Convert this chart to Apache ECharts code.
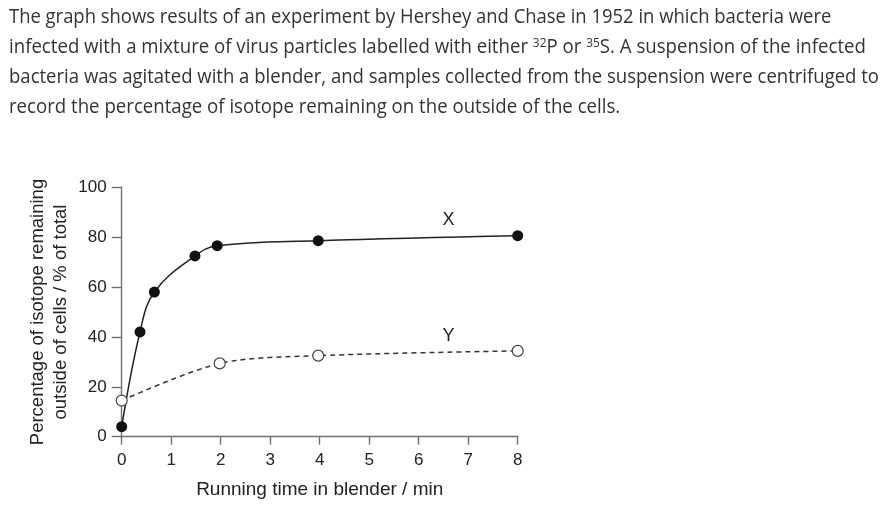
<!DOCTYPE html>
<html>
<head>
<meta charset="UTF-8">
<title>Hershey and Chase blender experiment</title>
<script src="https://cdn.jsdelivr.net/npm/echarts@6/dist/echarts.min.js"></script>
<style>
    body {margin: 0; background: #fff; width: 892px; height: 510px; overflow: hidden; position: relative;}
    #chart {position: absolute; left: 0; top: 0; width: 892px; height: 510px;}
    #intro {position: absolute; left: 0; top: 0; z-index: 2; font-family: "Open Sans"; font-size: 20px; color: #333;}
    #intro div {position: absolute; left: 9px; white-space: nowrap; line-height: 30px; transform-origin: 0 0;}
    #intro sup {font-size: 0.64em; vertical-align: 0.5em; line-height: 0;}
</style>
</head>
<body>
<div id="intro">
    <div style="top:1px" data-w="822">The graph shows results of an experiment by Hershey and Chase in 1952 in which bacteria were</div>
    <div style="top:31px" data-w="857">infected with a mixture of virus particles labelled with either <sup>32</sup>P or <sup>35</sup>S. A suspension of the infected</div>
    <div style="top:61px" data-w="870">bacteria was agitated with a blender, and samples collected from the suspension were centrifuged to</div>
    <div style="top:91px" data-w="611">record the percentage of isotope remaining on the outside of the cells.</div>
</div>
<div id="chart"></div>
<script>
    // running time (min) and % isotope outside the cells
    var timeX = [0, 0.37, 0.66, 1.48, 1.93, 3.97, 8];
    var isotopeX = [4, 42, 58, 72.5, 76.6, 78.6, 80.6];
    var timeY = [0, 1.98, 3.97, 8];
    var isotopeY = [14.5, 29.4, 32.5, 34.4];
    var labelX = [6.6, 87];
    var labelY = [6.6, 40.5];

    // squeeze the paragraph lines to the widths of the original typesetting
    Array.prototype.forEach.call(document.querySelectorAll('#intro div'), function (el) {
        var w = el.offsetWidth;
        el.style.transform = 'scaleX(' + (+el.getAttribute('data-w') / w) + ')';
    });

    function pairs(xs, ys) {
        return xs.map(function (x, i) { return [x, ys[i]]; });
    }

    var font = 'Liberation Sans';
    var axisColor = '#707070';

    function curveLabel(text, coord) {
        return {
            symbol: 'rect',
            symbolSize: 1,
            itemStyle: {color: 'rgba(0,0,0,0)'},
            label: {show: true, position: 'inside', formatter: text, color: '#222', fontSize: 18, fontFamily: font},
            data: [{coord: coord}]
        };
    }

    var chart = echarts.init(document.getElementById('chart'));
    chart.setOption({
        animation: false,
        grid: {left: 121.7, right: 374.3, top: 187.3, bottom: 73.3},
        xAxis: {
            type: 'value',
            min: 0,
            max: 8,
            interval: 1,
            name: 'Running time in blender / min',
            nameLocation: 'middle',
            nameGap: 44,
            nameTextStyle: {color: '#222', fontSize: 19, fontFamily: font},
            axisLine: {lineStyle: {color: axisColor, width: 1.4}},
            axisTick: {length: 8, lineStyle: {color: axisColor, width: 1.4}},
            axisLabel: {margin: 15, color: '#222', fontSize: 17, fontFamily: font},
            splitLine: {show: false}
        },
        yAxis: {
            type: 'value',
            min: 0,
            max: 100,
            interval: 20,
            name: 'Percentage of isotope remaining\noutside of cells / % of total',
            nameLocation: 'middle',
            nameGap: 49,
            nameTextStyle: {color: '#222', fontSize: 18.5, lineHeight: 23.5, fontFamily: font},
            axisLine: {show: true, lineStyle: {color: axisColor, width: 1.4}},
            axisTick: {show: true, length: 10, lineStyle: {color: axisColor, width: 1.4}},
            axisLabel: {margin: 15, color: '#222', fontSize: 17, fontFamily: font},
            splitLine: {show: false}
        },
        series: [
            {
                name: 'X',
                type: 'line',
                data: pairs(timeX, isotopeX),
                smooth: 0.4,
                symbol: 'circle',
                symbolSize: 11,
                itemStyle: {color: '#111'},
                lineStyle: {color: '#222', width: 1.5},
                markPoint: curveLabel('X', labelX)
            },
            {
                name: 'Y',
                type: 'line',
                data: pairs(timeY, isotopeY),
                smooth: 0.3,
                symbol: 'circle',
                symbolSize: 11,
                itemStyle: {color: '#fff', borderColor: '#444', borderWidth: 1.2},
                lineStyle: {color: '#333', width: 1.5, type: [5, 4]},
                markPoint: curveLabel('Y', labelY)
            }
        ]
    });
</script>
</body>
</html>
